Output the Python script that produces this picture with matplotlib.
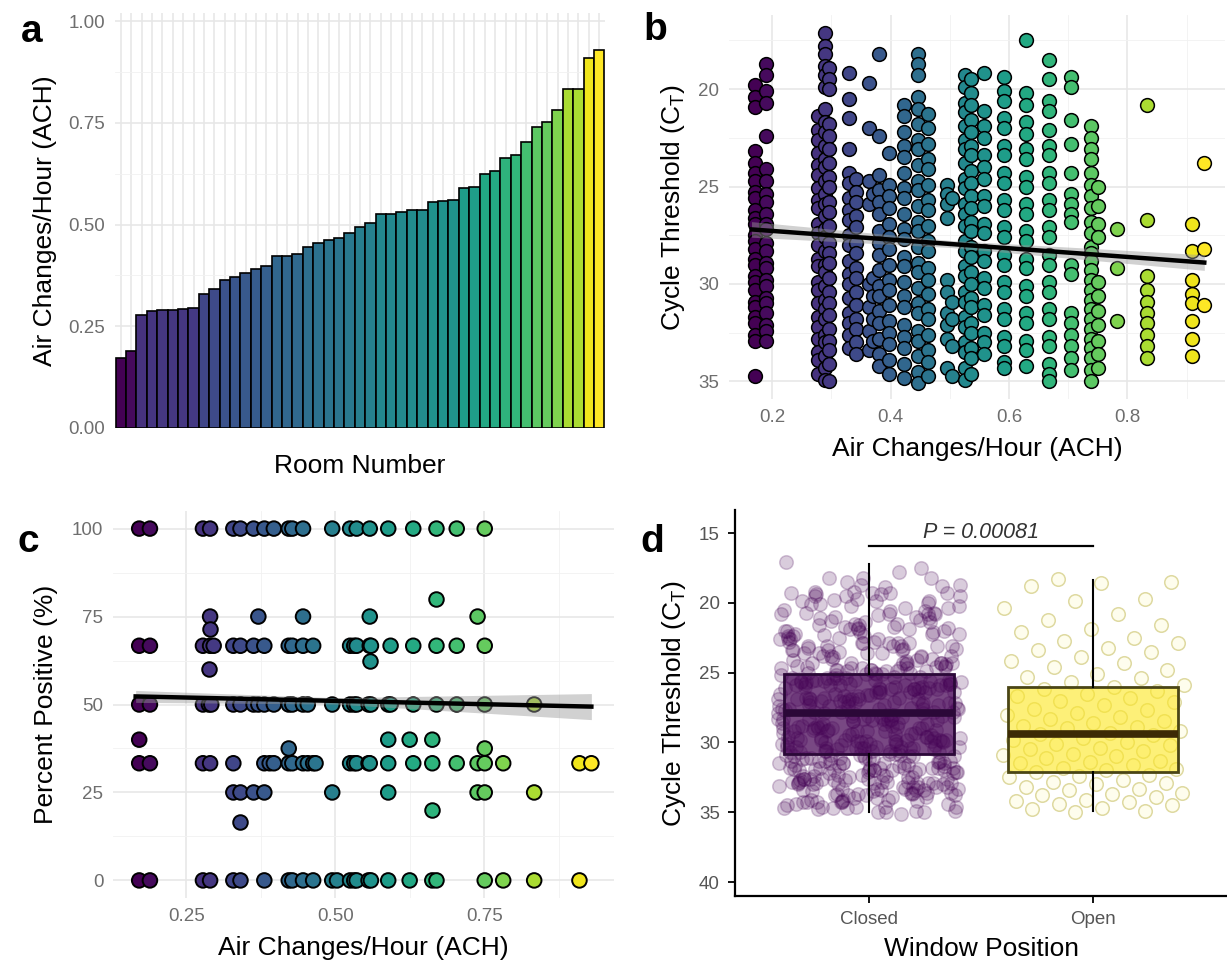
import numpy as np
import matplotlib
matplotlib.use("Agg")
import matplotlib.pyplot as plt
from matplotlib import colors

plt.rcParams['font.family'] = ['Liberation Sans', 'DejaVu Sans']
plt.rcParams['mathtext.fontset'] = 'custom'
plt.rcParams['mathtext.rm'] = 'Liberation Sans'
plt.rcParams['mathtext.it'] = 'Liberation Sans:italic'

# ---------------- Panel a: ACH per room (sorted) ----------------
room_ach = [0.171, 0.189, 0.278, 0.288, 0.290, 0.290, 0.292, 0.296, 0.329, 0.341,
            0.363, 0.371, 0.381, 0.390, 0.397, 0.422, 0.422, 0.428, 0.446, 0.454,
            0.463, 0.467, 0.479, 0.495, 0.503, 0.525, 0.525, 0.532, 0.536, 0.536,
            0.556, 0.558, 0.560, 0.589, 0.593, 0.625, 0.631, 0.663, 0.670, 0.704,
            0.739, 0.751, 0.782, 0.834, 0.834, 0.910, 0.930]

# ---------------- Panel b: Ct values per ACH column ----------------
ct_0171 = [19.8, 20.4, 20.9, 23.2, 23.8, 24.3, 24.7, 25.3, 25.6, 26.2, 26.6, 26.9, 27.5, 27.8, 28.2, 28.7, 29.0, 29.6, 29.9, 30.3, 30.9, 31.2, 31.7, 32.0, 32.6, 32.9, 34.7]
ct_0189 = [18.7, 19.3, 20.1, 20.7, 22.4, 24.1, 24.7, 25.4, 25.8, 26.4, 26.9, 27.2, 27.9, 28.3, 28.9, 29.2, 29.8, 30.1, 30.7, 31.0, 31.5, 32.1, 32.4, 32.9]
ct_0278 = [21.4, 22.1, 22.6, 23.3, 23.9, 24.4, 25.1, 25.7, 26.1, 26.9, 27.4, 28.0, 28.7, 29.1, 29.9, 30.3, 31.0, 31.7, 32.2, 32.8, 33.5, 33.9, 34.6]
ct_0290 = [17.1, 17.8, 18.2, 18.8, 19.3, 19.9, 21.0, 21.7, 22.2, 22.9, 23.6, 24.0, 24.7, 25.4, 25.9, 26.5, 27.2, 27.6, 28.3, 29.0, 29.4, 30.1, 30.8, 31.3, 31.8, 32.6, 33.0, 33.7, 34.3, 34.9]
ct_0296 = [18.9, 19.5, 20.0, 21.8, 22.4, 23.1, 23.8, 24.5, 25.0, 25.8, 26.3, 27.0, 27.9, 28.4, 28.9, 29.7, 30.4, 31.0, 31.6, 32.3, 32.9, 33.4, 34.1, 35.0]
ct_0329 = [19.2, 20.5, 21.5, 23.1, 24.3, 24.8, 25.6, 26.2, 26.7, 27.5, 28.0, 28.8, 29.5, 30.0, 30.7, 31.5, 32.0, 32.6, 33.3]
ct_0341 = [24.6, 25.3, 25.8, 26.5, 27.1, 27.9, 28.4, 29.2, 29.7, 30.4, 31.1, 31.8, 32.3, 33.0, 33.6]
ct_0363 = [19.7, 22.0, 24.7, 25.9, 30.0, 31.2, 32.4, 33.4]
ct_0371 = [25.4, 29.7, 30.6, 31.8, 32.9]
ct_0381 = [18.2, 22.4, 24.4, 25.2, 25.8, 26.4, 27.3, 27.9, 28.5, 29.3, 30.1, 30.6, 31.4, 32.0, 32.8, 33.6, 34.2]
ct_0397 = [23.3, 24.9, 25.5, 26.1, 26.9, 27.6, 28.2, 29.0, 29.8, 30.3, 31.1, 31.9, 32.5, 33.1, 33.9, 34.6]
ct_0422 = [20.8, 21.4, 22.2, 22.9, 23.5, 24.3, 25.1, 25.6, 26.4, 27.2, 27.7, 28.6, 29.1, 29.9, 30.6, 31.2, 32.1, 32.7, 33.3, 34.1, 34.8]
ct_0446 = [18.2, 18.7, 19.3, 20.4, 21.0, 21.8, 22.6, 23.1, 23.9, 24.7, 25.2, 26.0, 26.8, 27.3, 28.1, 28.9, 29.4, 30.2, 31.0, 31.5, 32.4, 32.9, 33.7, 34.5, 35.1]
ct_0463 = [21.3, 22.0, 22.8, 23.6, 24.1, 24.9, 25.7, 26.2, 27.0, 27.8, 28.3, 29.2, 29.8, 30.5, 31.3, 31.8, 32.6, 33.4, 34.0, 34.7]
ct_0495 = [24.9, 25.4, 25.9, 26.6, 29.8, 30.4, 31.5, 32.1, 32.8, 34.3]
ct_0503 = [25.6, 30.9, 31.8, 33.2, 34.7]
ct_0525 = [19.3, 19.9, 20.7, 21.2, 21.9, 22.6, 23.1, 23.8, 24.6, 25.1, 25.9, 26.4, 27.0, 27.8, 28.3, 29.1, 29.6, 30.4, 30.9, 31.7, 32.2, 33.0, 33.5, 34.3, 34.9]
ct_0536 = [19.5, 20.2, 20.8, 21.6, 22.2, 22.9, 23.4, 24.2, 24.8, 25.5, 26.1, 26.8, 27.3, 28.1, 28.6, 29.4, 30.0, 30.7, 31.2, 32.0, 32.5, 33.3, 33.8, 34.6]
ct_0558 = [19.2, 21.1, 21.9, 22.5, 23.4, 24.0, 24.6, 25.5, 26.0, 26.9, 27.4, 28.3, 28.8, 29.7, 30.2, 31.1, 31.6, 32.5, 33.0, 33.6]
ct_0591 = [19.4, 20.1, 20.6, 21.5, 22.0, 22.9, 23.4, 24.3, 24.8, 25.7, 26.2, 27.1, 27.6, 28.5, 29.0, 29.9, 30.4, 31.3, 31.8, 32.7, 33.2, 34.0, 34.3]
ct_0628 = [17.5, 20.2, 20.8, 21.7, 22.3, 23.1, 23.6, 24.5, 25.0, 25.9, 26.4, 27.3, 27.8, 28.7, 29.2, 30.1, 30.6, 31.5, 32.0, 32.9, 33.4, 34.2]
ct_0667 = [18.5, 19.5, 20.6, 21.1, 22.1, 22.9, 23.4, 24.3, 24.8, 25.7, 26.2, 27.1, 27.6, 28.5, 29.0, 29.9, 30.4, 31.3, 31.8, 32.7, 33.2, 34.1, 34.6, 35.0]
ct_0704 = [19.4, 19.9, 21.6, 22.8, 24.3, 25.4, 25.9, 26.4, 26.8, 29.0, 29.5, 31.5, 32.0, 32.6, 33.2, 33.8, 34.4]
ct_0739 = [21.9, 22.5, 23.1, 23.6, 24.3, 24.9, 25.5, 26.1, 26.8, 27.4, 28.1, 28.4, 28.8, 29.3, 29.8, 30.3, 30.8, 31.3, 31.8, 32.3, 32.8, 33.3, 33.8, 34.4, 35.0]
ct_0751 = [25.0, 26.0, 26.9, 27.6, 29.9, 30.6, 31.4, 32.1, 32.9, 33.6, 34.3]
ct_0782 = [27.2, 29.2, 31.9]
ct_0834 = [20.8, 26.7, 29.6, 30.3, 30.9, 31.5, 32.0, 32.6, 33.2, 33.8]
ct_0910 = [26.9, 28.3, 29.8, 30.5, 31.0, 31.9, 32.8, 33.7]
ct_0930 = [23.8, 28.2, 31.1]

b_ach = [0.171, 0.189, 0.278, 0.290, 0.296, 0.329, 0.341, 0.363, 0.371, 0.381,
         0.397, 0.422, 0.446, 0.463, 0.495, 0.503, 0.525, 0.536, 0.558, 0.591,
         0.628, 0.667, 0.704, 0.739, 0.751, 0.782, 0.834, 0.910, 0.930]
b_ct = [ct_0171, ct_0189, ct_0278, ct_0290, ct_0296, ct_0329, ct_0341, ct_0363, ct_0371, ct_0381,
        ct_0397, ct_0422, ct_0446, ct_0463, ct_0495, ct_0503, ct_0525, ct_0536, ct_0558, ct_0591,
        ct_0628, ct_0667, ct_0704, ct_0739, ct_0751, ct_0782, ct_0834, ct_0910, ct_0930]

b_fit_ach = [0.165, 0.930]
b_fit_ct = [27.2, 28.9]
b_band_ach = [0.165, 0.50, 0.930]
b_band_half = [0.4, 0.18, 0.4]

# ---------------- Panel c: percent positive ----------------
c_levels = [100, 80, 75, 71.4, 66.7, 62.5, 60, 50, 40, 37.5, 33.3, 25, 20, 16.7, 0]
c_at_100 = [0.171, 0.189, 0.278, 0.290, 0.329, 0.341, 0.363, 0.381, 0.397, 0.422, 0.428,
            0.446, 0.495, 0.525, 0.536, 0.558, 0.589, 0.631, 0.670, 0.704, 0.751]
c_at_80 = [0.670]
c_at_75 = [0.290, 0.371, 0.446, 0.558, 0.739]
c_at_71 = [0.290]
c_at_67 = [0.171, 0.189, 0.278, 0.290, 0.296, 0.329, 0.341, 0.363, 0.381, 0.422, 0.428,
           0.446, 0.463, 0.525, 0.532, 0.536, 0.558, 0.560, 0.593, 0.631, 0.670, 0.704, 0.751]
c_at_62 = [0.558]
c_at_60 = [0.288]
c_at_50 = [0.171, 0.189, 0.278, 0.288, 0.292, 0.329, 0.341, 0.363, 0.371, 0.381, 0.397,
           0.422, 0.428, 0.446, 0.454, 0.495, 0.525, 0.532, 0.536, 0.556, 0.560, 0.589,
           0.593, 0.631, 0.670, 0.704, 0.751, 0.834]
c_at_40 = [0.171, 0.589, 0.625, 0.663]
c_at_37 = [0.422, 0.751]
c_at_33 = [0.171, 0.189, 0.278, 0.290, 0.329, 0.381, 0.390, 0.397, 0.422, 0.428, 0.446,
           0.454, 0.463, 0.467, 0.525, 0.532, 0.536, 0.556, 0.558, 0.589, 0.631, 0.663,
           0.704, 0.739, 0.751, 0.782, 0.910, 0.930]
c_at_25 = [0.329, 0.341, 0.363, 0.381, 0.495, 0.589, 0.739, 0.751, 0.834]
c_at_20 = [0.663]
c_at_17 = [0.341]
c_at_0 = [0.171, 0.189, 0.278, 0.290, 0.329, 0.341, 0.381, 0.422, 0.428, 0.446, 0.463,
          0.495, 0.503, 0.525, 0.532, 0.536, 0.556, 0.560, 0.589, 0.625, 0.663, 0.670,
          0.751, 0.782, 0.834, 0.910]
c_rows = [c_at_100, c_at_80, c_at_75, c_at_71, c_at_67, c_at_62, c_at_60, c_at_50,
          c_at_40, c_at_37, c_at_33, c_at_25, c_at_20, c_at_17, c_at_0]

c_fit_ach = [0.165, 0.930]
c_fit_pct = [52.3, 49.4]
c_band_ach = [0.165, 0.50, 0.930]
c_band_half = [1.7, 0.9, 3.7]

# ---------------- Panel d: window position ----------------
d_groups = ["Closed", "Open"]
open_ct = [18.3, 18.5, 18.6, 18.8, 19.7, 19.9, 20.4, 20.8, 21.2, 21.6, 21.9, 22.1, 22.5,
           22.7, 22.9, 23.2, 23.4, 23.5, 23.9, 24.2, 24.3, 24.6, 24.8, 25.1, 25.3, 25.4,
           25.7, 25.9, 26.0, 26.2, 26.3, 26.5, 26.7, 26.8, 27.0, 27.1, 27.3, 27.6, 27.7,
           27.9, 28.0, 28.2, 28.3, 28.5, 28.6, 28.8, 28.9, 29.0, 29.2, 29.3, 29.4, 29.5,
           29.7, 29.8, 30.0, 30.1, 30.2, 30.4, 30.5, 30.6, 30.8, 30.9, 31.0, 31.1, 31.3,
           31.4, 31.5, 31.6, 31.8, 31.9, 32.0, 32.1, 32.3, 32.4, 32.5, 32.7, 32.8, 32.9,
           33.0, 33.2, 33.3, 33.4, 33.6, 33.7, 33.8, 33.9, 34.1, 34.2, 34.3, 34.4, 34.5,
           34.7, 34.8, 34.9, 35.0]
# box statistics: whislo, q1, med, q3, whishi
closed_box = [17.2, 25.1, 27.9, 30.8, 35.0]
open_box = [18.4, 26.0, 29.4, 32.1, 34.9]
p_text = "P = 0.00081"

# ================= drawing =================
W, H = 1227, 974
fig = plt.figure(figsize=(W / 100, H / 100), dpi=100)


def rect(l, t, r, b):
    return [l / W, 1 - b / H, (r - l) / W, (b - t) / H]


axa = fig.add_axes(rect(115, 13, 605, 428))
axb = fig.add_axes(rect(729, 15, 1225, 399))
axc = fig.add_axes(rect(113, 511, 614, 898))
axd = fig.add_axes(rect(735, 510, 1227, 896))

cmap = plt.get_cmap('viridis')
norm = colors.Normalize(vmin=min(room_ach), vmax=max(room_ach))
TICK_C = '#6e6e6e'
TITLE_FS = 19
TICK_FS = 13.5


def minimal(ax):
    for s in ax.spines.values():
        s.set_visible(False)
    ax.tick_params(which='both', length=0, labelcolor=TICK_C, labelsize=TICK_FS, pad=7)
    ax.grid(True, which='major', color='#e6e6e6', lw=1.1)
    ax.grid(True, which='minor', color='#f1f1f1', lw=0.6)
    ax.set_axisbelow(True)


# ---- a ----
minimal(axa)
xs = np.arange(1, len(room_ach) + 1)
axa.bar(xs, room_ach, width=1.0, color=cmap(norm(np.array(room_ach))),
        edgecolor='black', linewidth=1.2, zorder=3)
axa.set_xlim(0.45, len(room_ach) + 0.55)
axa.set_ylim(0, 1.02)
axa.set_xticks(xs)
axa.set_xticklabels([])
axa.set_yticks([0, 0.25, 0.5, 0.75, 1.0])
axa.set_yticklabels(['0.00', '0.25', '0.50', '0.75', '1.00'])
axa.set_yticks([0.125, 0.375, 0.625, 0.875], minor=True)
axa.grid(False, axis='x', which='minor')
axa.set_xlabel('Room Number', fontsize=TITLE_FS, labelpad=12)
axa.set_ylabel('Air Changes/Hour (ACH)', fontsize=TITLE_FS, labelpad=8)

# ---- b ----
minimal(axb)
for a, cts in zip(b_ach, b_ct):
    axb.scatter([a] * len(cts), cts, s=98, color=cmap(norm(a)), edgecolor='black',
                linewidth=1.1, zorder=3)
bx = np.array(b_band_ach)
bline = np.interp(bx, b_fit_ach, b_fit_ct)
axb.fill_between(bx, bline - np.array(b_band_half), bline + np.array(b_band_half),
                 color='#999999', alpha=0.45, lw=0, zorder=4)
axb.plot(b_fit_ach, b_fit_ct, color='black', lw=3.2, zorder=5)
axb.set_xlim(0.127, 0.965)
axb.set_ylim(35.9, 16.2)
axb.set_xticks([0.2, 0.4, 0.6, 0.8])
axb.set_xticklabels(['0.2', '0.4', '0.6', '0.8'])
axb.set_xticks([0.3, 0.5, 0.7, 0.9], minor=True)
axb.set_yticks([20, 25, 30, 35])
axb.set_yticks([17.5, 22.5, 27.5, 32.5], minor=True)
axb.set_xlabel('Air Changes/Hour (ACH)', fontsize=TITLE_FS, labelpad=8)
axb.set_ylabel(r'Cycle Threshold (C$_{\mathrm{T}}$)', fontsize=TITLE_FS, labelpad=8)

# ---- c ----
minimal(axc)
for lvl, achs in zip(c_levels, c_rows):
    axc.scatter(achs, [lvl] * len(achs), s=110, color=cmap(norm(np.array(achs))),
                edgecolor='black', linewidth=1.4, zorder=3)
cx = np.array(c_band_ach)
cline = np.interp(cx, c_fit_ach, c_fit_pct)
axc.fill_between(cx, cline - np.array(c_band_half), cline + np.array(c_band_half),
                 color='#999999', alpha=0.45, lw=0, zorder=4)
axc.plot(c_fit_ach, c_fit_pct, color='black', lw=3.2, zorder=5)
axc.set_xlim(0.127, 0.968)
axc.set_ylim(-5, 105)
axc.set_xticks([0.25, 0.5, 0.75])
axc.set_xticklabels(['0.25', '0.50', '0.75'])
axc.set_xticks([0.375, 0.625, 0.875], minor=True)
axc.set_yticks([0, 25, 50, 75, 100])
axc.set_yticks([12.5, 37.5, 62.5, 87.5], minor=True)
axc.set_xlabel('Air Changes/Hour (ACH)', fontsize=TITLE_FS, labelpad=8)
axc.set_ylabel('Percent Positive (%)', fontsize=TITLE_FS, labelpad=10)

# ---- d ----
closed_ct = [v for cts in b_ct for v in cts]
d_points = [closed_ct, open_ct]
d_face = [(0x44 / 255, 0x01 / 255, 0x54 / 255, 0.2), (0.99, 0.91, 0.15, 0.08)]
d_edge = [(0x44 / 255, 0x01 / 255, 0x54 / 255, 0.22), (0.72, 0.68, 0.22, 0.45)]
for i, pts in enumerate(d_points):
    n = len(pts)
    off = ((np.arange(n) * 0.6180339887 + 0.31) % 1.0 - 0.5) * 0.82
    axd.scatter(i + 1 + off, pts, s=95, facecolor=d_face[i], edgecolor=d_edge[i],
                linewidth=1.1, zorder=2)

box_fill = [('#440154', 0.72), ('#FDE725', 0.62)]
box_edge = ['#2b0838', '#4a4515']
med_col = ['#2b0838', '#3d2a05']
stats = []
for g, bs in zip(d_groups, [closed_box, open_box]):
    stats.append(dict(label=g, whislo=bs[0], q1=bs[1], med=bs[2], q3=bs[3], whishi=bs[4], fliers=[]))
for i, st in enumerate(stats):
    axd.bxp([st], positions=[i + 1], widths=0.76, patch_artist=True, showcaps=False,
            showfliers=False, manage_ticks=False,
            boxprops=dict(facecolor=colors.to_rgba(box_fill[i][0], box_fill[i][1]),
                          edgecolor=box_edge[i], linewidth=2.0),
            medianprops=dict(color=med_col[i], linewidth=5.5, solid_capstyle='butt'),
            whiskerprops=dict(color='black', linewidth=1.5))
axd.plot([1, 2], [15.9, 15.9], color='black', lw=1.6)
axd.text(1.5, 15.7, p_text, ha='center', va='bottom', fontsize=15.5, style='italic',
         color='#333333')
axd.set_xlim(0.4, 2.6)
axd.set_ylim(41.0, 13.35)
axd.set_xticks([1, 2])
axd.set_xticklabels(d_groups)
axd.set_yticks([15, 20, 25, 30, 35, 40])
for s in ['top', 'right']:
    axd.spines[s].set_visible(False)
for s in ['left', 'bottom']:
    axd.spines[s].set_linewidth(1.6)
axd.tick_params(length=5, width=1.3, labelcolor='#555555', labelsize=TICK_FS, pad=6)
axd.set_xlabel('Window Position', fontsize=TITLE_FS, labelpad=6)
axd.set_ylabel(r'Cycle Threshold (C$_{\mathrm{T}}$)', fontsize=TITLE_FS, labelpad=8)

# panel letters
for lab, (x, y) in zip('abcd', [(32, 32), (655, 30), (28, 542), (652, 542)]):
    fig.text(x / W, 1 - y / H, lab, fontsize=28, fontweight='bold', ha='center', va='center')

fig.savefig('out.png', dpi=100)
